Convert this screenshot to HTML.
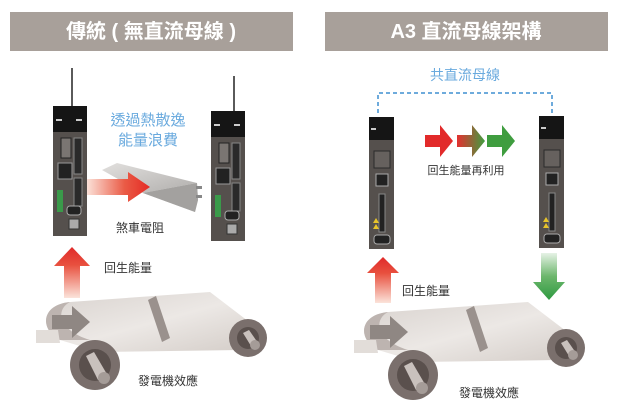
<!DOCTYPE html>
<html><head><meta charset="utf-8">
<style>
html,body{margin:0;padding:0;background:#fff;}
svg{display:block;}
text{font-family:"Liberation Sans","Noto Sans CJK TC",sans-serif;}
</style></head>
<body>
<svg width="617" height="418" viewBox="0 0 617 418" xmlns="http://www.w3.org/2000/svg">
<defs>
<linearGradient id="upred" x1="0" y1="0" x2="0" y2="1">
<stop offset="0" stop-color="#e02a2a"/><stop offset="0.35" stop-color="#e8503e"/><stop offset="1" stop-color="#fbe3da"/></linearGradient>
<linearGradient id="downgreen" x1="0" y1="0" x2="0" y2="1">
<stop offset="0" stop-color="#e6f2e6"/><stop offset="0.5" stop-color="#6cb66c"/><stop offset="1" stop-color="#2e9a40"/></linearGradient>
<linearGradient id="rg" x1="0" y1="0" x2="1" y2="0">
<stop offset="0" stop-color="#e43030"/><stop offset="1" stop-color="#3f9d3f"/></linearGradient>
<linearGradient id="redside" x1="0" y1="0" x2="1" y2="0">
<stop offset="0" stop-color="#fbe1d8"/><stop offset="0.6" stop-color="#ea5a45"/><stop offset="1" stop-color="#e42a24"/></linearGradient>
<linearGradient id="belt" x1="0" y1="0" x2="1" y2="1">
<stop offset="0" stop-color="#d8d2ce"/><stop offset="0.5" stop-color="#ece8e5"/><stop offset="1" stop-color="#d2cbc6"/></linearGradient>
<linearGradient id="res" x1="0" y1="0" x2="1" y2="1">
<stop offset="0" stop-color="#e2e0de"/><stop offset="1" stop-color="#b0aeac"/></linearGradient>
<g id="drive">
<rect x="0" y="0" width="34" height="130" fill="#55504d"/>
<rect x="0" y="0" width="34" height="26" fill="#151515"/>
<rect x="3" y="13" width="6" height="2" fill="#ccc"/>
<rect x="23" y="13" width="6" height="2" fill="#ccc"/>
<rect x="8" y="32" width="10" height="20" fill="#7a7572" stroke="#222"/>
<rect x="21" y="32" width="8" height="36" fill="#2a2a2a" stroke="#888"/>
<rect x="5" y="57" width="14" height="16" fill="#222" stroke="#999"/>
<rect x="21" y="72" width="8" height="28" fill="#2a2a2a" stroke="#888"/>
<rect x="4" y="84" width="6" height="22" fill="#3a9a4a"/>
<rect x="14" y="100" width="14" height="9" rx="3" fill="#222" stroke="#aaa"/>
<rect x="16" y="113" width="10" height="10" fill="#aaa" stroke="#333"/>
</g>
<g id="driveA3">
<rect x="0" y="0" width="25" height="132" fill="#55504d"/>
<rect x="0" y="0" width="25" height="23" fill="#151515"/>
<rect x="2" y="11" width="5" height="2" fill="#ccc"/>
<rect x="5" y="34" width="16" height="17" fill="#66615e" stroke="#2a2a2a"/>
<rect x="7" y="57" width="12" height="12" fill="#222" stroke="#aaa"/>
<rect x="10" y="77" width="6" height="38" fill="#222" stroke="#888"/>
<polygon points="4,106 7,101 10,106" fill="#e8c42a"/>
<polygon points="4,112 7,107 10,112" fill="#e8c42a"/>
<rect x="5" y="118" width="16" height="9" rx="3" fill="#222" stroke="#aaa"/>
</g>
<g id="roller">
<path d="M60,340 C40,330 40,305 70,302 L210,292 L265,334 L240,350 L100,352 Z" fill="url(#belt)"/>
<path d="M60,340 C40,330 40,305 70,302 C55,310 58,330 90,340 Z" fill="#bdb4b0"/>
<polygon points="52,315 72,315 72,306 90,322 72,338 72,329 52,329" fill="#8f8783"/>
<polygon points="36,330 58,330 60,343 36,343" fill="#e2ddd9"/>
<polygon points="148,300 156,296 170,338 162,342" fill="#9a918d"/>
<circle cx="95" cy="365" r="25" fill="#7a6f6c"/>
<circle cx="95" cy="365" r="16" fill="#5a504d"/>
<polygon points="86,356 94,352 108,376 98,380" fill="#c9c1bd"/>
<circle cx="104" cy="378" r="6" fill="#a59c98"/>
<circle cx="248" cy="338" r="19" fill="#7a6f6c"/>
<circle cx="248" cy="338" r="11" fill="#5a504d"/>
<polygon points="243,333 249,330 258,343 251,346" fill="#c9c1bd"/>
<circle cx="255" cy="345" r="5" fill="#a59c98"/>
</g>
</defs>

<rect x="10" y="12" width="283" height="39" fill="#a8a09a"/>
<text x="151" y="38" font-size="20" font-weight="bold" fill="#fff" text-anchor="middle">傳統 ( 無直流母線 )</text>
<rect x="325" y="12" width="283" height="39" fill="#a8a09a"/>
<text x="466" y="38" font-size="20" font-weight="bold" fill="#fff" text-anchor="middle">A3 直流母線架構</text>

<line x1="72" y1="68" x2="72" y2="106" stroke="#222" stroke-width="1.5"/>
<line x1="234" y1="76" x2="234" y2="111" stroke="#222" stroke-width="1.5"/>
<use href="#drive" x="53" y="106"/>
<use href="#drive" x="211" y="111"/>
<text x="148" y="125" font-size="15" fill="#6aaade" text-anchor="middle">透過熱散逸</text>
<text x="148" y="145" font-size="15" fill="#6aaade" text-anchor="middle">能量浪費</text>
<polygon points="102,170 117,163 197,183 143,193" fill="url(#res)"/>
<polygon points="102,170 143,193 195,212 198,200 197,183 143,193" fill="#c2c0be"/>
<polygon points="143,193 197,183 198,200 195,212" fill="#a3a19f"/>
<rect x="196" y="186" width="6" height="3" fill="#888"/>
<rect x="196" y="195" width="6" height="3" fill="#888"/>
<polygon points="87,179 128,179 128,172 150,187 128,202 128,195 87,195" fill="url(#redside)"/>
<text x="140" y="232" font-size="12" fill="#333" text-anchor="middle">煞車電阻</text>
<polygon points="72,247 90,266 80,266 80,298 64,298 64,266 54,266" fill="url(#upred)"/>
<text x="128" y="272" font-size="12" fill="#333" text-anchor="middle">回生能量</text>
<use href="#roller"/>
<text x="168" y="385" font-size="12" fill="#333" text-anchor="middle">發電機效應</text>

<text x="465" y="80" font-size="14" fill="#6aaade" text-anchor="middle">共直流母線</text>
<polyline points="378,113 378,93 552,93 552,113" fill="none" stroke="#3f8fd0" stroke-width="1.5" stroke-dasharray="4,3"/>
<use href="#driveA3" x="369" y="117"/>
<use href="#driveA3" x="539" y="116"/>
<polygon points="425,135 440,135 440,125 453,141 440,157 440,147 425,147" fill="#e22a2a"/>
<polygon points="457,135 472,135 472,125 485,141 472,157 472,147 457,147" fill="url(#rg)"/>
<polygon points="487,135 502,135 502,125 515,141 502,157 502,147 487,147" fill="#3f9d3f"/>
<text x="466" y="174" font-size="11" fill="#333" text-anchor="middle">回生能量再利用</text>
<polygon points="383,257 399,273 391,273 391,303 375,303 375,273 367,273" fill="url(#upred)"/>
<polygon points="541,253 557,253 557,282 565,282 549,300 533,282 541,282" fill="url(#downgreen)"/>
<text x="426" y="295" font-size="12" fill="#333" text-anchor="middle">回生能量</text>
<use href="#roller" transform="translate(318,10)"/>
<text x="489" y="397" font-size="12" fill="#333" text-anchor="middle">發電機效應</text>
</svg>
</body></html>
